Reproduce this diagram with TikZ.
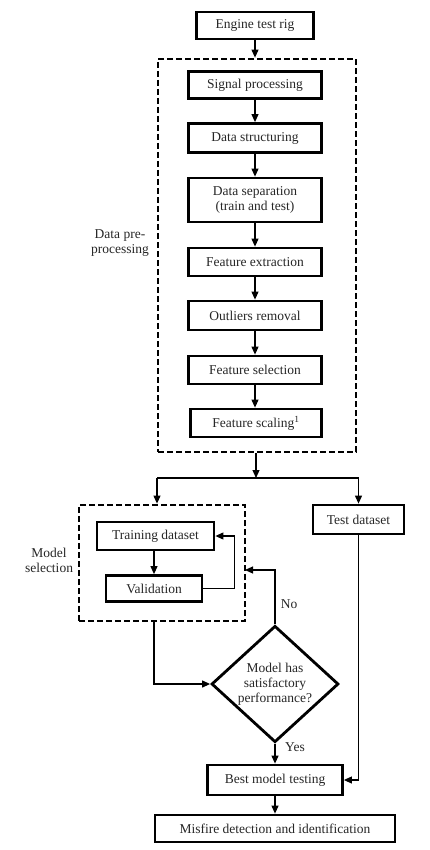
\documentclass[tikz,border=0pt]{standalone}
\usepackage{fontspec}
\setmainfont{Liberation Serif}
\usetikzlibrary{shapes.geometric,arrows.meta}
\begin{document}
\begin{tikzpicture}[x=1pt,y=-1pt,
  every node/.style={font=\fontsize{13.5}{15}\selectfont, text=black!85},
  box/.style={draw, line width=2.8pt, rectangle, inner sep=0pt, minimum height=28pt, align=center},
  dbox/.style={draw, line width=2.8pt, dash pattern=on 6pt off 3pt, rectangle, inner sep=0pt},
  arr/.style={line width=1.1pt, -{Triangle[length=8pt,width=7pt]}},
  ln/.style={line width=1.1pt},
  lbl/.style={align=center, inner sep=0pt}
]
\useasboundingbox (0,0) rectangle (430,850);
% pre-processing
\node[dbox, minimum width=198pt, minimum height=393pt] (pre) at (257,255.5) {};
\node[box, minimum width=117pt, minimum height=27pt] (eng) at (255,25.5) {Engine test rig};
\node[box, minimum width=133pt, minimum height=27pt] (sig) at (255,85) {Signal processing};
\node[box, minimum width=133pt, minimum height=29pt] (str) at (255,138) {Data structuring};
\node[box, minimum width=133pt, minimum height=44pt] (sep) at (255,200) {Data separation\\(train and test)};
\node[box, minimum width=133pt] (ext) at (255,262) {Feature extraction};
\node[box, minimum width=133pt, minimum height=29pt] (out) at (255,315.5) {Outliers removal};
\node[box, minimum width=133pt] (sel) at (255,370) {Feature selection};
\node[box, minimum width=131pt] (scl) at (256,423) {Feature scaling\textsuperscript{1}};
\node[lbl] (prelbl) at (120,243) {Data pre-\\processing};

\draw[arr] (eng.south) -- (eng.south |- pre.north);
\draw[arr] (sig) -- (str);
\draw[arr] (str) -- (sep);
\draw[arr] (sep) -- (ext);
\draw[arr] (ext) -- (out);
\draw[arr] (out) -- (sel);
\draw[arr] (sel.south) -- (sel.south |- scl.north);

% split
\coordinate (split) at (256,478);
\coordinate (sl) at (157,478);
\coordinate (sr) at (358.5,478);
\draw[arr] (pre.south -| split) -- (split);
\draw[ln] (sl) -- (sr);

% model selection
\node[dbox, minimum width=166pt, minimum height=116pt] (ms) at (162,563) {};
\node[box, minimum width=117pt] (train) at (155.5,536) {Training dataset};
\node[box, minimum width=96pt, minimum height=26pt] (val) at (154,588.5) {Validation};
\node[lbl] (mslbl) at (49,560) {Model\\selection};
\node[box, minimum width=91pt, minimum height=29pt] (test) at (358.5,519.5) {Test dataset};

\draw[arr] (sl) -- (sl |- ms.north);
\draw[arr] (sr) -- (test.north);
\draw[arr] (train.south -| val) -- (val.north);
\draw[arr] (val.east) -- ++(31,0) |- (train.east);

% decision
\node[draw, diamond, line width=2.8pt, inner sep=0pt, minimum width=127pt, minimum height=109pt, align=center] (dia) at (275,684) {Model has\\satisfactory\\performance?};
\coordinate (noin) at (245,570);
\draw[arr] (dia.north) |- (noin);
\node[lbl] (no) at (289,604) {No};
\draw[arr] (val |- ms.south) |- (dia.west);

\node[box, minimum width=135pt, minimum height=30pt] (best) at (275,780) {Best model testing};
\node[box, minimum width=240pt, minimum height=27pt] (mis) at (275,828.5) {Misfire detection and identification};
\draw[arr] (dia.south) -- (best.north);
\node[lbl] (yes) at (295,747) {Yes};
\draw[arr] (test.south) |- (best.east);
\draw[arr] (best) -- (mis);
\end{tikzpicture}
\end{document}
